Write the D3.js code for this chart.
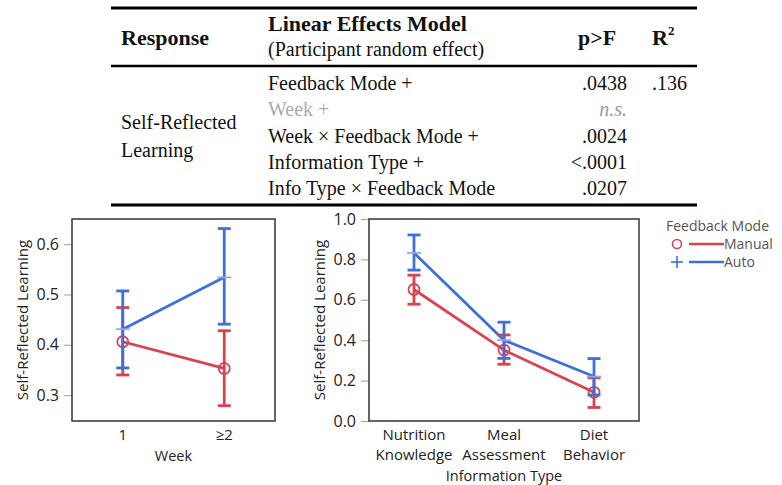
<!DOCTYPE html>
<html><head><meta charset="utf-8">
<script src="https://cdn.jsdelivr.net/npm/d3@7"></script>
<style>
html,body{margin:0;padding:0;background:#fff;}
svg{display:block;}
</style></head>
<body>
<svg id="c" width="782" height="485"></svg>
<script>
// ---- Table data ----
const headerCols = ["Response", "Linear Effects Model", "(Participant random effect)", "p>F", "R"];
const responseName = ["Self-Reflected", "Learning"];
const effects = ["Feedback Mode +", "Week +", "Week × Feedback Mode +", "Information Type +", "Info Type × Feedback Mode"];
const pValues = [".0438", "n.s.", ".0024", "<.0001", ".0207"];
const significant = [true, false, true, true, true];
const rSquared = [".136"];

// ---- Chart data ----
const series = ["Manual", "Auto"];
const weeks = ["1", "≥2"];
const weekMean = {Manual: [0.406, 0.353], Auto: [0.431, 0.534]};
const weekLo   = {Manual: [0.340, 0.279], Auto: [0.354, 0.441]};
const weekHi   = {Manual: [0.474, 0.428], Auto: [0.507, 0.631]};
const weekTicks = [0.3, 0.4, 0.5, 0.6];

const infoTypes = [["Nutrition", "Knowledge"], ["Meal", "Assessment"], ["Diet", "Behavior"]];
const infoMean = {Manual: [0.651, 0.351, 0.142], Auto: [0.832, 0.400, 0.220]};
const infoLo   = {Manual: [0.578, 0.281, 0.067], Auto: [0.747, 0.310, 0.129]};
const infoHi   = {Manual: [0.722, 0.426, 0.214], Auto: [0.921, 0.489, 0.309]};
const infoTicks = [0.0, 0.2, 0.4, 0.6, 0.8, 1.0];

const colors = {Manual: "#d8434f", Auto: "#3f6fd9"};
const meanTickColor = {Auto: "#8fa9ec"};

const svg = d3.select("#c");
const serif = "'Liberation Serif', 'Times New Roman', serif";
const sans = "'Open Sans', 'Noto Sans', sans-serif";

// ---------- TABLE ----------
const T = svg.append("g").attr("font-family", serif).attr("fill", "#111");
const tl = 111, tr = 697;
[[8, 3], [66, 2.5], [205, 3]].forEach(([y, w]) => {
  T.append("line").attr("x1", tl).attr("x2", tr).attr("y1", y).attr("y2", y)
    .attr("stroke", "#000").attr("stroke-width", w);
});
const fs = 20, fb = 22;
T.append("text").attr("x", 121).attr("y", 45).attr("font-weight", "bold").attr("font-size", fb).text(headerCols[0]);
T.append("text").attr("x", 268).attr("y", 31).attr("font-weight", "bold").attr("font-size", fb).text(headerCols[1]);
T.append("text").attr("x", 268).attr("y", 56).attr("font-size", fs).text(headerCols[2]);
T.append("text").attr("x", 578).attr("y", 45).attr("font-weight", "bold").attr("font-size", fb).text(headerCols[3]);
const r2 = T.append("text").attr("x", 652).attr("y", 45).attr("font-weight", "bold").attr("font-size", fb);
r2.append("tspan").text(headerCols[4]);
r2.append("tspan").attr("dy", -10).attr("font-size", 13).text("2");

T.append("text").attr("x", 121).attr("y", 129).attr("font-size", fs).text(responseName[0]);
T.append("text").attr("x", 121).attr("y", 157).attr("font-size", fs).text(responseName[1]);

const rowY = d3.scalePoint().domain(d3.range(effects.length)).range([90, 195]);
effects.forEach((e, i) => {
  T.append("text").attr("x", 268).attr("y", rowY(i)).attr("font-size", fs)
    .attr("fill", significant[i] ? "#111" : "#aaa").text(e);
  T.append("text").attr("x", 627).attr("y", rowY(i)).attr("font-size", fs).attr("text-anchor", "end")
    .attr("fill", significant[i] ? "#111" : "#999")
    .attr("font-style", significant[i] ? "normal" : "italic").text(pValues[i]);
});
T.append("text").attr("x", 652).attr("y", rowY(0)).attr("font-size", fs).text(rSquared[0]);

// ---------- CHART helper ----------
function drawPanel(opts) {
  const g = svg.append("g").attr("font-family", sans);
  const x = d3.scaleBand().domain(d3.range(opts.n)).range([opts.x0, opts.x1]).padding(0);
  const y = d3.scaleLinear().domain(opts.domain).range([opts.y1, opts.y0]);
  const cx = i => x(i) + x.bandwidth() / 2;

  // y axis
  const ya = d3.axisLeft(y).tickValues(opts.ticks).tickFormat(d3.format(".1f")).tickSize(8).tickPadding(5);
  const yg = g.append("g").attr("transform", `translate(${opts.x0},0)`).call(ya);
  yg.select(".domain").remove();
  yg.selectAll(".tick line").attr("stroke", "#aaa").attr("stroke-width", 1.2);
  yg.selectAll(".tick text").attr("font-size", 16).attr("fill", "#222").attr("font-family", sans);

  // frame
  g.append("rect").attr("x", opts.x0).attr("y", opts.y0).attr("width", opts.x1 - opts.x0)
    .attr("height", opts.y1 - opts.y0).attr("fill", "none").attr("stroke", "#333").attr("stroke-width", 1.5);

  // x labels
  opts.labels.forEach((lab, i) => {
    const lines = Array.isArray(lab) ? lab : [lab];
    lines.forEach((l, k) => {
      g.append("text").attr("x", cx(i)).attr("y", opts.y1 + 18.5 + k * 20).attr("text-anchor", "middle")
        .attr("font-size", 15).attr("fill", "#222").text(l);
    });
  });
  g.append("text").attr("x", (opts.x0 + opts.x1) / 2).attr("y", opts.xTitleY).attr("text-anchor", "middle")
    .attr("font-size", 14.5).attr("fill", "#222").text(opts.xTitle);
  g.append("text").attr("transform", `translate(${opts.yTitleX},${(opts.y0 + opts.y1) / 2}) rotate(-90)`)
    .attr("text-anchor", "middle").attr("font-size", 15).attr("fill", "#222").text("Self-Reflected Learning");

  const line = d3.line().x((d, i) => cx(i)).y(d => y(d));
  series.forEach(s => {
    g.append("path").datum(opts.mean[s]).attr("d", line).attr("fill", "none")
      .attr("stroke", colors[s]).attr("stroke-width", 2.8);
  });
  const cap = 6.5;
  series.forEach(s => {
    opts.mean[s].forEach((m, i) => {
      const c = cx(i);
      g.append("line").attr("x1", c).attr("x2", c).attr("y1", y(opts.lo[s][i])).attr("y2", y(opts.hi[s][i]))
        .attr("stroke", colors[s]).attr("stroke-width", 2.8);
      [opts.lo[s][i], opts.hi[s][i]].forEach(v => {
        g.append("line").attr("x1", c - cap).attr("x2", c + cap).attr("y1", y(v)).attr("y2", y(v))
          .attr("stroke", colors[s]).attr("stroke-width", 2.8);
      });
      if (s === "Manual") {
        g.append("circle").attr("cx", c).attr("cy", y(m)).attr("r", 5.5).attr("fill", "none")
          .attr("stroke", colors[s]).attr("stroke-width", 1.8);
      } else {
        g.append("line").attr("x1", c - cap - 0.5).attr("x2", c + cap + 0.5).attr("y1", y(m)).attr("y2", y(m))
          .attr("stroke", meanTickColor[s]).attr("stroke-width", 1.8);
      }
    });
  });
}

drawPanel({n: weeks.length, x0: 72, x1: 275, y0: 219, y1: 421, domain: [0.2485, 0.65],
  ticks: weekTicks, labels: weeks, xTitle: "Week", xTitleY: 461, yTitleX: 28,
  mean: weekMean, lo: weekLo, hi: weekHi});
drawPanel({n: infoTypes.length, x0: 369, x1: 639, y0: 219, y1: 421, domain: [0, 1],
  ticks: infoTicks, labels: infoTypes, xTitle: "Information Type", xTitleY: 480.5, yTitleX: 325,
  mean: infoMean, lo: infoLo, hi: infoHi});

// ---------- LEGEND ----------
const L = svg.append("g").attr("font-family", sans).attr("font-size", 14).attr("fill", "#555");
L.append("text").attr("x", 666).attr("y", 231).text("Feedback Mode");
const legY = d3.scalePoint().domain(series).range([244, 262]);
series.forEach(s => {
  const yy = legY(s);
  if (s === "Manual") {
    L.append("circle").attr("cx", 677).attr("cy", yy).attr("r", 4.5).attr("fill", "none")
      .attr("stroke", colors[s]).attr("stroke-width", 1.6);
  } else {
    L.append("line").attr("x1", 671).attr("x2", 683).attr("y1", yy).attr("y2", yy).attr("stroke", colors[s]).attr("stroke-width", 1.6);
    L.append("line").attr("x1", 677).attr("x2", 677).attr("y1", yy - 6).attr("y2", yy + 6).attr("stroke", colors[s]).attr("stroke-width", 1.6);
  }
  L.append("line").attr("x1", 689).attr("x2", 724).attr("y1", yy).attr("y2", yy)
    .attr("stroke", colors[s]).attr("stroke-width", 2.5);
  L.append("text").attr("x", 724).attr("y", yy + 5).text(s);
});
</script>
</body></html>
